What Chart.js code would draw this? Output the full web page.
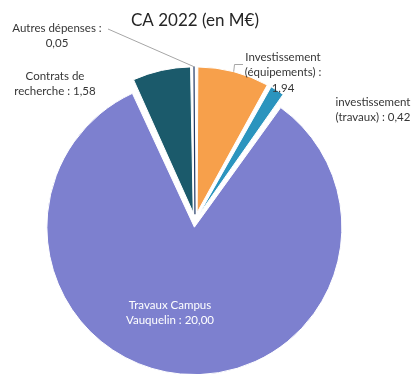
<!DOCTYPE html>
<html lang="fr">
<head>
<meta charset="utf-8">
<title>CA 2022 (en M€)</title>
<script src="https://cdn.jsdelivr.net/npm/chart.js@4.4.1/dist/chart.umd.min.js"></script>
<style>
  html, body { margin: 0; padding: 0; background: #fff; }
  #wrap { position: relative; width: 417px; height: 374px; }
</style>
</head>
<body>
<div id="wrap"><canvas id="pieChart"></canvas></div>
<script>
// --- CA 2022 data (M€), clockwise from 12 o'clock ---
const categories = ['Investissement (équipements)', 'investissement (travaux)', 'Travaux Campus Vauquelin', 'Contrats de recherche', 'Autres dépenses'];
const values = [1.94, 0.42, 20.00, 1.58, 0.05];
const sliceColors = ['#f7a04b', '#2b94be', '#7d80cf', '#1b5a6b', '#203864'];

// label text per slice, {v} gets the value
const labelLines = [
  ['Investissement', '(équipements) :', '{v}'],
  ['investissement', '(travaux) : {v}'],
  ['Travaux Campus', 'Vauquelin : {v}'],
  ['Contrats de', 'recherche : {v}'],
  ['Autres dépenses :', '{v}']
];

const frNum = v => v.toFixed(2).replace('.', ',');

// every slice pulled out by the same distance (px)
const EXPLODE = 13;
const total = values.reduce((a, b) => a + b, 0);
// Chart.js moves an arc by offset/4 * (1 + fix), fix depending on its sweep
const sliceOffsets = values.map(v => {
  const circ = v / total * Math.PI * 2;
  const fix = 1 - Math.sin(Math.min(Math.PI, circ));
  return EXPLODE * 4 / (1 + fix);
});

function arcShift(arc) {
  const circ = arc.endAngle - arc.startAngle;
  const fix = 1 - Math.sin(Math.min(Math.PI, circ));
  return (arc.options.offset || 0) / 4 * (1 + fix);
}

// outer edge point at the middle of an exploded arc
function outerMid(arc) {
  const a = (arc.startAngle + arc.endAngle) / 2;
  const r = arc.outerRadius + arcShift(arc);
  return { x: arc.x + Math.cos(a) * r, y: arc.y + Math.sin(a) * r };
}

// --- data labels + leader lines ---
const sliceLabels = {
  id: 'sliceLabels',
  afterDatasetsDraw(chart, args, opts) {
    const ctx = chart.ctx;
    const arcs = chart.getDatasetMeta(0).data;
    ctx.save();
    ctx.font = opts.font;
    ctx.textAlign = 'center';
    ctx.textBaseline = 'middle';
    opts.items.forEach((item, i) => {
      if (item.leader) {
        const tip = outerMid(arcs[i]);
        ctx.beginPath();
        ctx.strokeStyle = opts.leaderColor;
        ctx.lineWidth = 1;
        item.leader.forEach((p, k) => k ? ctx.lineTo(p[0], p[1]) : ctx.moveTo(p[0], p[1]));
        ctx.lineTo(tip.x, tip.y);
        ctx.stroke();
      }
      ctx.fillStyle = item.color || opts.color;
      labelLines[i].forEach((t, k) => {
        ctx.fillText(t.replace('{v}', frNum(values[i])), item.x, item.y + k * opts.lineHeight);
      });
    });
    ctx.restore();
  }
};

const pieCtx = document.getElementById('pieChart').getContext('2d');
const pieChart = new Chart(pieCtx, {
  type: 'pie',
  data: {
    labels: categories,
    datasets: [{
      data: values,
      backgroundColor: sliceColors,
      // the thin "Autres" wedge keeps its own colour as outline so it stays visible
      borderColor: ['#ffffff', '#ffffff', '#ffffff', '#ffffff', '#203864'],
      borderWidth: [1, 1, 1, 1, 1.2],
      offset: sliceOffsets,
      hoverOffset: 0,
      clip: false
    }]
  },
  options: {
    responsive: true,
    maintainAspectRatio: false,
    animation: false,
    radius: 141,
    layout: { padding: { left: 0, right: 27, top: 0, bottom: 0 } },
    plugins: {
      legend: { display: false },
      tooltip: { enabled: false },
      title: {
        display: true,
        text: 'CA 2022 (en M€)',
        color: '#262626',
        font: { family: 'Lato', size: 17, weight: 'normal' },
        padding: { top: 10, bottom: 37 }
      },
      sliceLabels: {
        font: '11.5px Lato',
        color: '#363636',
        leaderColor: '#a6a6a6',
        lineHeight: 15.5,
        items: [
          { x: 283, y: 57, leader: [[243, 64.5], [234.5, 64.5]] },
          { x: 373, y: 102 },
          { x: 170, y: 305, color: '#ffffff' },
          { x: 55, y: 76 },
          { x: 57, y: 28, leader: [[108, 29]] }
        ]
      }
    }
  },
  plugins: [sliceLabels]
});
</script>
</body>
</html>
